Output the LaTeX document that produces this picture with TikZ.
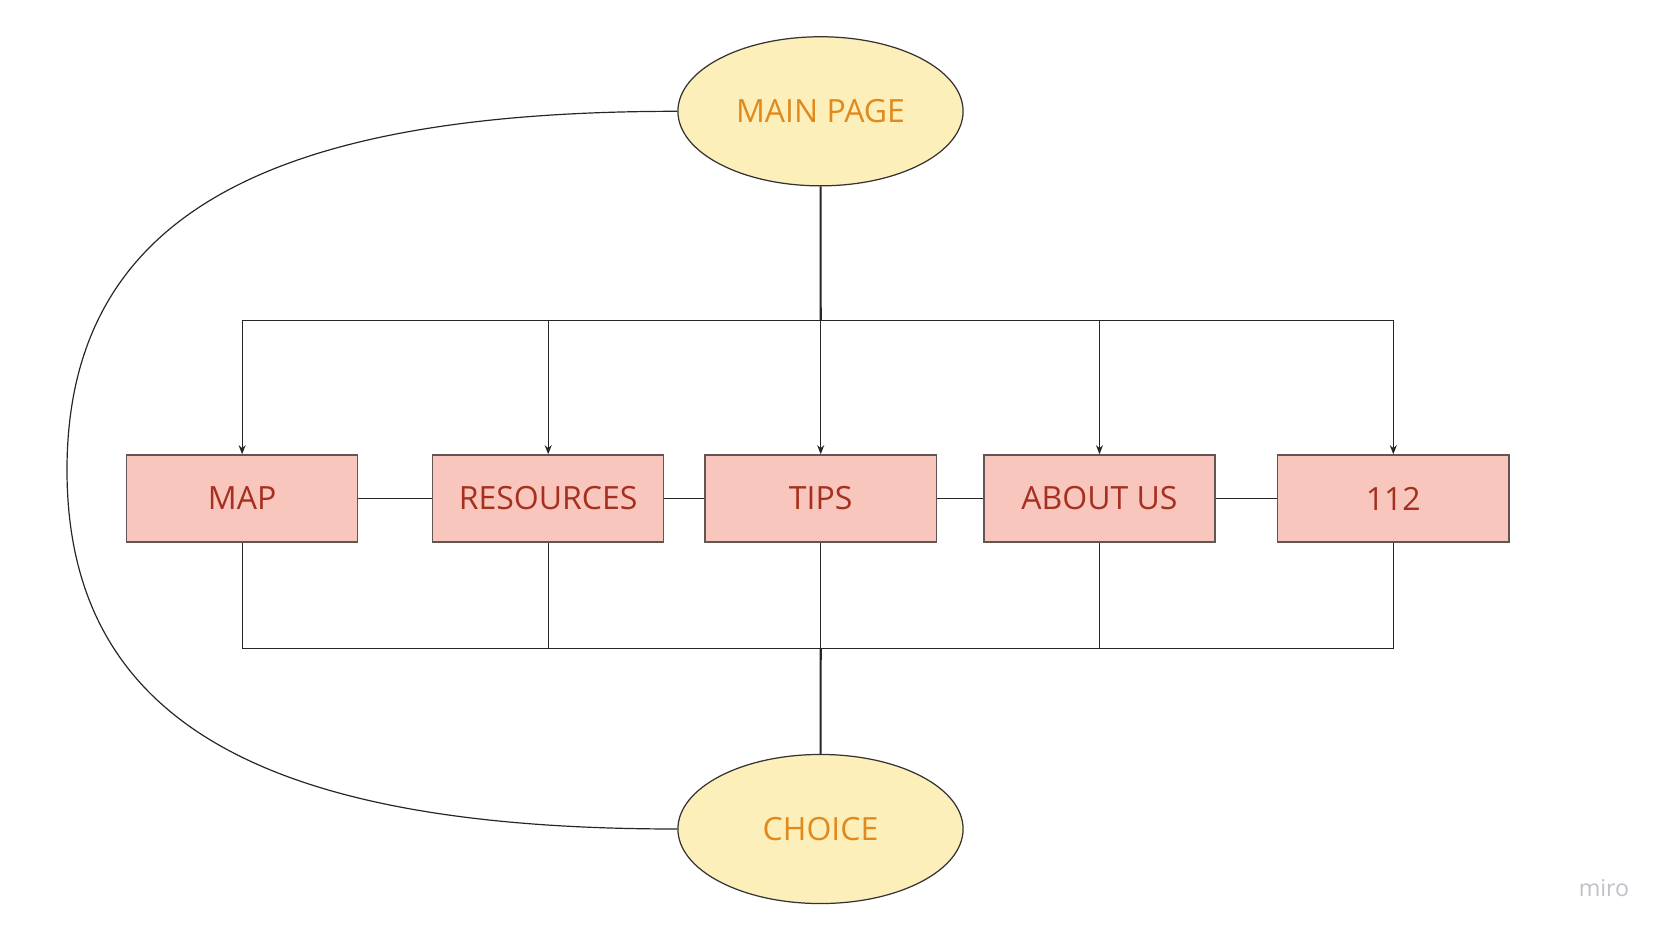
\documentclass[tikz,border=0pt]{standalone}
\usepackage{fontspec}
\setmainfont{Open Sans}
\usetikzlibrary{shapes.geometric,arrows.meta}

\definecolor{pagefill}{RGB}{253,239,185}
\definecolor{pagetext}{RGB}{224,138,30}
\definecolor{boxfill}{RGB}{249,198,189}
\definecolor{boxtext}{RGB}{165,48,31}
\definecolor{boxline}{RGB}{100,85,85}
\definecolor{mirogray}{RGB}{192,192,202}

\begin{document}
\begin{tikzpicture}[x=0.01cm, y=-0.01cm,
        pagenode/.style={ellipse, draw=black!80, line width=0.35pt, fill=pagefill,
            text=pagetext, minimum width=2.85cm, minimum height=1.49cm, inner sep=0pt,
            font=\fontsize{9.1}{11}\selectfont},
        menubox/.style={rectangle, draw=boxline, line width=0.4pt, fill=boxfill,
            text=boxtext, minimum width=2.31cm, minimum height=0.87cm, inner sep=0pt,
            font=\fontsize{9.1}{11}\selectfont},
        link/.style={draw=black!85, line width=0.34pt},
        trunk/.style={draw=black!85, line width=0.6pt},
        arrow/.style={link, -{Stealth[length=2.6pt, width=2pt]}}]
        \useasboundingbox (0, 0) rectangle (1669, 936);

        \node[pagenode] (main) at (820.5, 111.3) {MAIN PAGE};
        \node[pagenode] (choice) at (820.5, 829) {CHOICE};

        \node[menubox] (map) at (242.1, 498.5) {MAP};
        \node[menubox] (res) at (548.2, 498.5) {RESOURCES};
        \node[menubox] (tips) at (820.7, 498.5) {TIPS};
        \node[menubox] (about) at (1099.5, 498.5) {ABOUT US};
        \node[menubox] (emerg) at (1393.3, 498.5) {112};

        \coordinate (tj) at (820.7, 320.8);
        \coordinate (bj) at (820.7, 648.4);
        \coordinate (loop) at (67, 470);

        % main page down to the menu
        \draw[trunk] (main) -- (tj);
        \foreach \b in {map, res, tips, about, emerg}
            \draw[arrow] (tj) -| (\b);

        % menu down to choice
        \foreach \b in {map, res, tips, about, emerg}
            \draw[link] (\b) |- (bj);
        \draw[trunk] (bj) -- (choice);

        \draw[link] (map) -- (res);
        \draw[link] (res) -- (tips);
        \draw[link] (tips) -- (about);
        \draw[link] (about) -- (emerg);

        % back from choice to main page
        \draw[link] (main.west) .. controls (278, 111.3) and (67, 210) .. (loop)
            .. controls (67, 730) and (278, 829) .. (choice.west);

        \node[text=mirogray, font=\fontsize{6.6}{8}\selectfont] (miro) at (1604, 888) {miro};
    \end{tikzpicture}
\end{document}
